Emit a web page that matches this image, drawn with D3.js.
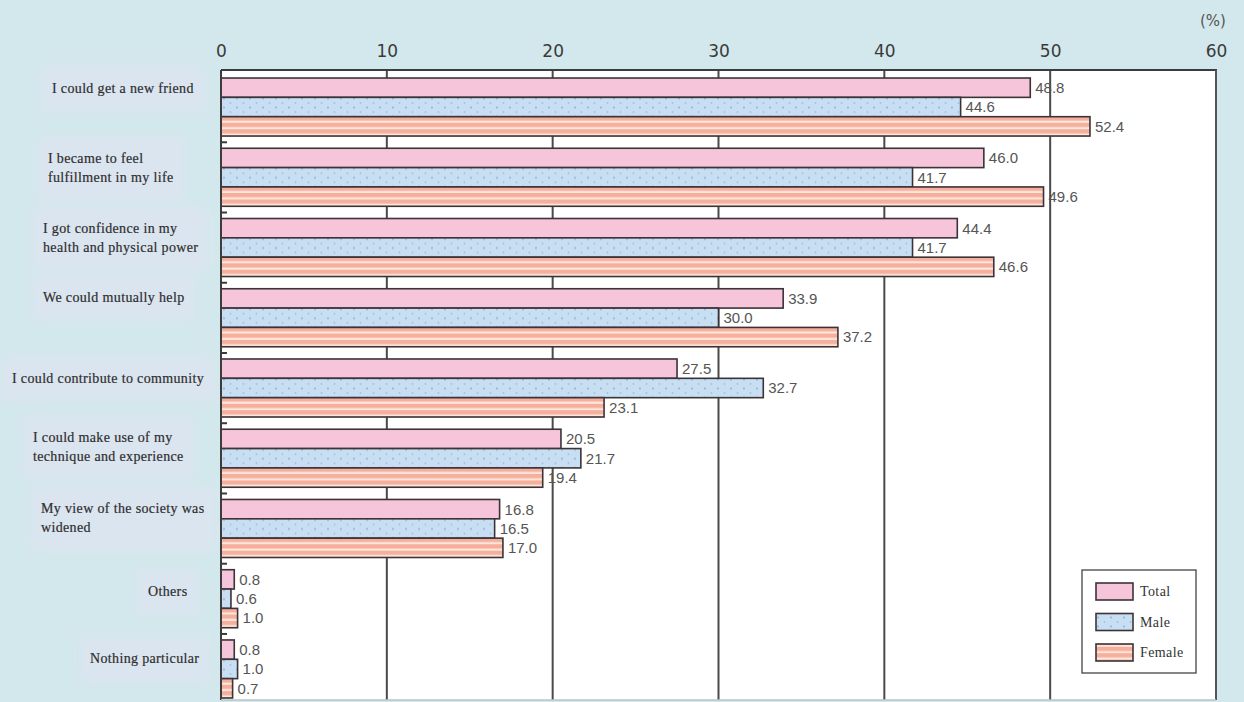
<!DOCTYPE html>
<html>
<head>
<meta charset="utf-8">
<script src="https://cdn.jsdelivr.net/npm/d3@7"></script>
<style>
  html, body { margin: 0; padding: 0; background: #d3e8ec; }
  svg { display: block; }
</style>
</head>
<body>
<svg id="chart" width="1244" height="702"></svg>
<script>
// Reasons respondents gave for what they gained from taking part in activities (%)
const categories = [
  "I could get a new friend",
  "I became to feel fulfillment in my life",
  "I got confidence in my health and physical power",
  "We could mutually help",
  "I could contribute to community",
  "I could make use of my technique and experience",
  "My view of the society was widened",
  "Others",
  "Nothing particular"
];
// Line breaks used for the category labels
const categoryLines = [
  ["I could get a new friend"],
  ["I became to feel", "fulfillment in my life"],
  ["I got confidence in my", "health and physical power"],
  ["We could mutually help"],
  ["I could contribute to community"],
  ["I could make use of my", "technique and experience"],
  ["My view of the society was", "widened"],
  ["Others"],
  ["Nothing particular"]
];
const seriesNames = ["Total", "Male", "Female"];
const totalValues  = [48.8, 46.0, 44.4, 33.9, 27.5, 20.5, 16.8, 0.8, 0.8];
const maleValues   = [44.6, 41.7, 41.7, 30.0, 32.7, 21.7, 16.5, 0.6, 1.0];
const femaleValues = [52.4, 49.6, 46.6, 37.2, 23.1, 19.4, 17.0, 1.0, 0.7];
const xTicks = [0, 10, 20, 30, 40, 50, 60];

// Label block placement (left x, vertical offset of first line from group top)
const labelLayout = [
  [52, 10], [48, 10], [43, 10], [43, 8], [12, 19], [33, 8], [41, 9], [148, 21], [90, 18]
];

const seriesValues = [totalValues, maleValues, femaleValues];
const rows = categories.map((c, i) => ({
  category: c,
  values: seriesNames.map((s, k) => ({ series: s, value: seriesValues[k][i] }))
}));

const svg = d3.select("#chart");
const W = 1244, H = 702;
const plot = { left: 221, right: 1216, top: 70, bottom: 700 };
const serif = "'Liberation Serif', 'Times New Roman', serif";

const x = d3.scaleLinear().domain([0, 60]).range([plot.left, plot.right]);
const y = d3.scaleBand().domain(categories).range([71, 705])
  .paddingInner(0.174).paddingOuter(0.1);
const ySub = d3.scaleBand().domain(seriesNames).range([0, y.bandwidth()]);

// Patterns
const defs = svg.append("defs");
const dots = defs.append("pattern").attr("id", "dots")
  .attr("patternUnits", "userSpaceOnUse").attr("width", 13).attr("height", 9);
dots.append("rect").attr("width", 13).attr("height", 9).attr("fill", "#c7def3");
dots.append("circle").attr("cx", 3).attr("cy", 2.5).attr("r", 0.9).attr("fill", "#8eaecb");
dots.append("circle").attr("cx", 9.5).attr("cy", 7).attr("r", 0.9).attr("fill", "#a5c1da");

const stripes = defs.append("pattern").attr("id", "stripes")
  .attr("patternUnits", "userSpaceOnUse").attr("width", 10).attr("height", 6.4);
stripes.append("rect").attr("width", 10).attr("height", 6.4).attr("fill", "#f6ae9d");
stripes.append("rect").attr("y", 4.2).attr("width", 10).attr("height", 2.2).attr("fill", "#fde6da");

defs.append("filter").attr("id", "soft")
  .attr("x", "-20%").attr("y", "-30%").attr("width", "140%").attr("height", "160%")
  .append("feGaussianBlur").attr("stdDeviation", 5);

const fills = { Total: "#f6c5d9", Male: "url(#dots)", Female: "url(#stripes)" };

// Background
svg.append("rect").attr("width", W).attr("height", H).attr("fill", "#d3e8ec");

// Plot area
svg.append("rect")
  .attr("x", plot.left).attr("y", plot.top)
  .attr("width", plot.right - plot.left).attr("height", plot.bottom - plot.top)
  .attr("fill", "#ffffff");

// Vertical grid lines
svg.append("g").selectAll("line")
  .data(xTicks.filter(t => t > 0 && t < 60))
  .join("line")
  .attr("x1", d => x(d)).attr("x2", d => x(d))
  .attr("y1", plot.top).attr("y2", plot.bottom)
  .attr("stroke", "#4a4a4a").attr("stroke-width", 2);

// Category label backgrounds and text
const labelG = svg.append("g");
rows.forEach((r, i) => {
  const [lx, dy] = labelLayout[i];
  const gTop = y(r.category);
  const g = labelG.append("g");
  const bg = g.append("rect").attr("fill", "#dbe5f0").attr("filter", "url(#soft)");
  const t = g.append("text")
    .attr("font-family", serif)
    .attr("font-size", 14).attr("letter-spacing", 0.35)
    .attr("fill", "#2e2e2e").attr("stroke", "#2e2e2e").attr("stroke-width", 0.2);
  categoryLines[i].forEach((line, j) => {
    t.append("tspan").attr("x", lx).attr("y", gTop + dy + j * 19)
      .attr("dy", "0.35em").text(line);
  });
  const bb = t.node().getBBox();
  bg.attr("x", bb.x - 10).attr("y", bb.y - 14)
    .attr("width", Math.min(bb.width + 20, plot.left - 6 - (bb.x - 10)))
    .attr("height", bb.height + 30);
});

// Bars
const groups = svg.append("g").selectAll("g")
  .data(rows).join("g")
  .attr("transform", d => `translate(0,${y(d.category)})`);

groups.selectAll("rect")
  .data(d => d.values).join("rect")
  .attr("x", x(0))
  .attr("y", d => ySub(d.series))
  .attr("width", d => x(d.value) - x(0))
  .attr("height", ySub.bandwidth())
  .attr("fill", d => fills[d.series])
  .attr("stroke", "#3b3338").attr("stroke-width", 1.6);

groups.selectAll("text.val")
  .data(d => d.values).join("text")
  .attr("class", "val")
  .attr("x", d => x(d.value) + 5)
  .attr("y", d => ySub(d.series) + ySub.bandwidth() / 2)
  .attr("dy", "0.36em")
  .attr("font-family", "'Liberation Sans', Arial, sans-serif")
  .attr("font-size", 15).attr("fill", "#555")
  .text(d => d.value.toFixed(1));

// Small marks on the left axis between groups
svg.append("g").selectAll("line")
  .data(categories.slice(1))
  .join("line")
  .attr("x1", plot.left).attr("x2", plot.left + 6)
  .attr("y1", d => y(d) - 6).attr("y2", d => y(d) - 6)
  .attr("stroke", "#3b3b3b").attr("stroke-width", 2);

// Frame: top, right, left, bottom
svg.append("line").attr("x1", plot.left).attr("x2", plot.right + 1)
  .attr("y1", plot.top).attr("y2", plot.top).attr("stroke", "#3c3c3c").attr("stroke-width", 2.2);
svg.append("line").attr("x1", plot.right).attr("x2", plot.right)
  .attr("y1", plot.top).attr("y2", plot.bottom).attr("stroke", "#555").attr("stroke-width", 2);
svg.append("line").attr("x1", plot.left).attr("x2", plot.left)
  .attr("y1", plot.top).attr("y2", plot.bottom).attr("stroke", "#3c3c3c").attr("stroke-width", 2);
svg.append("line").attr("x1", plot.left).attr("x2", plot.right)
  .attr("y1", plot.bottom).attr("y2", plot.bottom).attr("stroke", "#b8c4c6").attr("stroke-width", 1.5);

// Top axis labels
const axis = d3.axisTop(x).tickValues(xTicks).tickSize(0).tickPadding(0);
const axG = svg.append("g").attr("transform", `translate(0,57)`).call(axis);
axG.select(".domain").remove();
axG.selectAll("text")
  .attr("font-family", "'DejaVu Sans', sans-serif")
  .attr("font-size", 17).attr("fill", "#3a3a3a").attr("dy", 0);

svg.append("text").attr("x", 1213).attr("y", 26)
  .attr("text-anchor", "middle")
  .attr("font-family", "'DejaVu Sans', sans-serif")
  .attr("font-size", 15).attr("fill", "#555").text("(%)");

// Legend
const lg = svg.append("g").attr("transform", "translate(1082,570)");
lg.append("rect").attr("width", 114).attr("height", 103)
  .attr("fill", "#fff").attr("stroke", "#444").attr("stroke-width", 1.3);
seriesNames.forEach((s, i) => {
  lg.append("rect").attr("x", 14).attr("y", 13 + i * 30.5)
    .attr("width", 37).attr("height", 17)
    .attr("fill", fills[s]).attr("stroke", "#3b3338").attr("stroke-width", 1.6);
  lg.append("text").attr("x", 58).attr("y", 21.5 + i * 30.5).attr("dy", "0.35em")
    .attr("font-family", serif).attr("letter-spacing", 0.4)
    .attr("font-size", 14).attr("fill", "#333").text(s);
});
</script>
</body>
</html>
